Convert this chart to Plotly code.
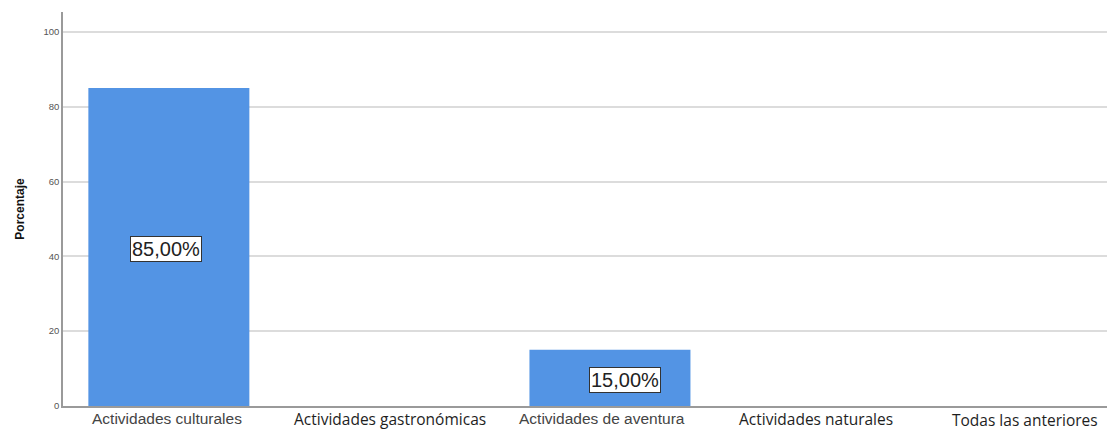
import plotly.graph_objects as go

categories = [
    "Actividades culturales",
    "Actividades gastronómicas",
    "Actividades de aventura",
    "Actividades naturales",
    "Todas las anteriores",
]
porcentajes = [85.0, 0.0, 15.0, 0.0, 0.0]
y_ticks = [0, 20, 40, 60, 80, 100]

BAR_COLOR = "#5394e4"

# category labels in the source come in two typefaces and are not quite centred
ARIAL = dict(family="Liberation Sans, Arial", size=15.5, color="#444")
SEGOE = dict(family="Open Sans, Noto Sans", size=15.5, color="#1e1e1e")
label_style = [
    (ARIAL, -2, -3),
    (SEGOE, 1, -1),
    (ARIAL, -8, -3),
    (SEGOE, -15, -1),
    (SEGOE, -26, -2),
]

fig = go.Figure()

fig.add_trace(
    go.Bar(
        x=list(range(len(categories))),
        y=porcentajes,
        width=0.73,
        marker=dict(color=BAR_COLOR, line=dict(width=0)),
        hoverinfo="skip",
        showlegend=False,
    )
)

# value labels in white boxes, mid-height of each bar
label_shift = {0: -3, 2: 15}
for i, v in enumerate(porcentajes):
    if v <= 0:
        continue
    fig.add_annotation(
        x=i, y=v / 2,
        text=f"{v:.2f}%".replace(".", ","),
        showarrow=False,
        xshift=label_shift.get(i, 0),
        yshift=-2,
        font=dict(family="Liberation Sans, Arial", size=20, color="#222"),
        bgcolor="white",
        bordercolor="#333",
        borderwidth=1,
        borderpad=1,
    )

for i, (cat, (font, dx, dy)) in enumerate(zip(categories, label_style)):
    fig.add_annotation(
        x=i, xref="x",
        y=0, yref="paper",
        yanchor="top",
        text=cat,
        showarrow=False,
        xshift=dx,
        yshift=dy,
        borderpad=0,
        font=font,
    )

# the page body adds an 8px margin, so the figure is sized to fit what's left
fig.update_layout(
    width=1107,
    height=423,
    margin=dict(l=55, r=0, t=4, b=25),
    plot_bgcolor="white",
    paper_bgcolor="white",
    xaxis=dict(
        range=[-0.48, 4.29],
        showticklabels=False,
        showgrid=False,
        showline=True,
        linecolor="#9a9a9a",
        linewidth=1.5,
        ticks="",
        zeroline=False,
    ),
    yaxis=dict(
        range=[0, 105.3],
        tickvals=y_ticks,
        tickfont=dict(family="Liberation Sans, Arial", size=9.5, color="#555"),
        showgrid=True,
        gridcolor="#dcdcdc",
        gridwidth=2,
        showline=True,
        linecolor="#9a9a9a",
        linewidth=1.5,
        zeroline=False,
        ticks="",
        title=dict(
            text="<b>Porcentaje</b>",
            font=dict(family="Liberation Sans, Arial", size=12, color="#111"),
            standoff=16,
        ),
    ),
)

fig.write_html("out.html")
